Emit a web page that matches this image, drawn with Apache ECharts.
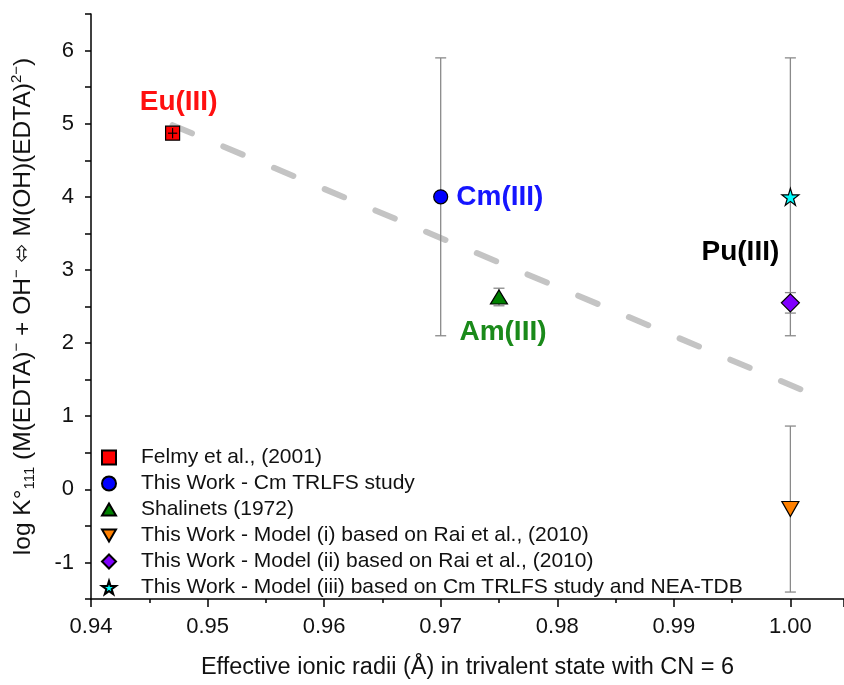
<!DOCTYPE html>
<html><head><meta charset="utf-8">
<script src="https://cdn.jsdelivr.net/npm/echarts@6/dist/echarts.min.js"></script>
<style>html,body{margin:0;padding:0;background:#fff}#c{width:844px;height:685px}</style>
</head><body><div id="c"></div>
<script>
// ---- data ----
const seriesNames = [
  'Felmy et al., (2001)',
  'This Work - Cm TRLFS study',
  'Shalinets (1972)',
  'This Work - Model (i) based on Rai et al., (2010)',
  'This Work - Model (ii) based on Rai et al., (2010)',
  'This Work - Model (iii) based on Cm TRLFS study and NEA-TDB'
];
const euX = [0.947], euY = [4.87], euErrY = [0.07], euErrX = [0.0004];
const cmX = [0.970], cmY = [4.00], cmErr = [1.90];
const amX = [0.975], amY = [2.63], amErr = [0.12];
const m1X = [1.000], m1Y = [-0.27], m1Err = [1.135];
const m2X = [1.000], m2Y = [2.55], m2Err = [0.14];
const m3X = [1.000], m3Y = [4.00], m3Err = [1.90];
const fitX = [0.947, 1.001], fitY = [4.98, 1.36];
const pointLabels = ['Eu(III)', 'Cm(III)', 'Am(III)', 'Pu(III)'];
const xTicks = {min: 0.94, max: 1.0046, step: 0.01};
const yTicks = {min: -1.5, max: 6.5, step: 0.5};

const FONT = '"Liberation Sans", Arial, sans-serif';
const starPath = 'path://M50,0 L61,35 L98,35 L68,57 L79,91 L50,70 L21,91 L32,57 L2,35 L39,35 Z';
const upTri = 'path://M50,0 L100,87 L0,87 Z';
const downTri = 'path://M0,0 L100,0 L50,87 Z';

function zip(xs, ys){ return xs.map((x,i)=>[x, ys[i]]); }
function errData(xs, ys, es){ return xs.map((x,i)=>[x, ys[i]-es[i], ys[i]+es[i]]); }

const allErr = [].concat(errData(cmX,cmY,cmErr), errData(amX,amY,amErr), errData(m1X,m1Y,m1Err),
                         errData(m2X,m2Y,m2Err), errData(m3X,m3Y,m3Err));

function errRender(params, api){
  const x = api.value(0), lo = api.value(1), hi = api.value(2);
  const pTop = api.coord([x, hi]), pBot = api.coord([x, lo]);
  const w = 5.5;
  const st = {stroke: '#8a8a8a', lineWidth: 1.3};
  return {type:'group', children:[
    {type:'line', shape:{x1:pTop[0],y1:pTop[1],x2:pBot[0],y2:pBot[1]}, style:st},
    {type:'line', shape:{x1:pTop[0]-w,y1:pTop[1],x2:pTop[0]+w,y2:pTop[1]}, style:st},
    {type:'line', shape:{x1:pBot[0]-w,y1:pBot[1],x2:pBot[0]+w,y2:pBot[1]}, style:st}
  ]};
}
function crossRender(params, api){
  const x = api.value(0), y = api.value(1);
  const c1 = api.coord([x, y + euErrY[0]]), c2 = api.coord([x, y - euErrY[0]]);
  const c3 = api.coord([x - euErrX[0], y]), c4 = api.coord([x + euErrX[0], y]);
  const st = {stroke:'#000', lineWidth:1.2};
  return {type:'group', children:[
    {type:'line', shape:{x1:c1[0],y1:c1[1],x2:c2[0],y2:c2[1]}, style:st},
    {type:'line', shape:{x1:c3[0],y1:c3[1],x2:c4[0],y2:c4[1]}, style:st}
  ]};
}

const labBase = {show:true, fontFamily:FONT, fontWeight:'bold', fontSize:28};
const border = {borderColor:'#000', borderWidth:1.2, opacity:1};

const chart = echarts.init(document.getElementById('c'), null, {renderer:'canvas'});
chart.setOption({
  animation:false,
  backgroundColor:'#fff',
  textStyle:{fontFamily:FONT},
  grid:{left:91, right:0, top:14, bottom:82},
  legend:{
    orient:'vertical', left:101, top:447, itemWidth:14, itemHeight:14, itemGap:5, padding:0,
    textStyle:{fontFamily:FONT, fontSize:21, color:'#111', padding:[0,0,0,20]},
    data: seriesNames
  },
  xAxis:{
    type:'value', min:xTicks.min, max:xTicks.max, interval:xTicks.step,
    axisLine:{show:true, onZero:false, lineStyle:{color:'#000', width:1.5}},
    axisTick:{show:true, inside:false, length:8, lineStyle:{color:'#000', width:1.5}},
    minorTick:{show:true, splitNumber:2, length:4, lineStyle:{color:'#000', width:1.5}},
    splitLine:{show:false},
    axisLabel:{fontSize:22, color:'#111', margin:17, fontFamily:FONT, showMaxLabel:false,
      formatter: v => Math.abs(v*100 - Math.round(v*100)) < 1e-6 ? v.toFixed(2) : ''},
    name:'Effective ionic radii (Å) in trivalent state with CN = 6',
    nameLocation:'middle', nameGap:57,
    nameTextStyle:{fontSize:23.5, color:'#111', fontFamily:FONT}
  },
  yAxis:{
    type:'value', min:yTicks.min, max:yTicks.max, interval:yTicks.step,
    axisLine:{show:true, onZero:false, lineStyle:{color:'#000', width:1.5}},
    axisTick:{show:true, length:6, lineStyle:{color:'#000', width:1.5}},
    splitLine:{show:false},
    axisLabel:{fontSize:22, color:'#111', margin:17, fontFamily:FONT,
      formatter: v => Math.abs(v - Math.round(v)) < 1e-6 ? String(Math.round(v)) : ''},
    name:'{n|log K°}{sub|111}{n| (M(EDTA)}{sup|−}{n| + OH}{sup|−}{n| }{ar|⬄}{n| M(OH)(EDTA)}{sup|2−}{n|)}',
    nameLocation:'middle', nameGap:54, nameRotate:90,
    nameTextStyle:{color:'#111', fontFamily:FONT, fontSize:24,
      rich:{
        n:{fontSize:24.5, lineHeight:28, verticalAlign:'middle', fontFamily:FONT, color:'#111'},
        ar:{fontSize:23, lineHeight:28, verticalAlign:'middle', fontFamily:'"DejaVu Sans"', color:'#111'},
        sub:{fontSize:15, lineHeight:14, verticalAlign:'bottom', fontFamily:FONT, color:'#111'},
        sup:{fontSize:15, lineHeight:14, verticalAlign:'top', fontFamily:FONT, color:'#111'}
      }}
  },
  series:[
    {type:'line', data: zip(fitX, fitY), symbol:'none', silent:true, z:1,
      lineStyle:{color:'#c4c4c4', width:6, type:[21,34], cap:'round'}},
    {type:'custom', renderItem: errRender, data: allErr, z:2, silent:true,
      encode:{x:0, y:[1,2]}},
    {name:seriesNames[0], type:'scatter', data: zip(euX, euY), symbol:'rect', symbolSize:14, z:5,
      itemStyle:Object.assign({color:'#ff0000'}, border),
      label:Object.assign({}, labBase, {color:'#ff1010', position:'top', distance:9, offset:[6,0],
        formatter: pointLabels[0]})},
    {type:'custom', renderItem: crossRender, data: zip(euX, euY), z:6, silent:true},
    {name:seriesNames[1], type:'scatter', data: zip(cmX, cmY), symbol:'circle', symbolSize:14, z:5,
      itemStyle:Object.assign({color:'#0000ff'}, border),
      label:Object.assign({}, labBase, {color:'#1515ff', position:'right', distance:8,
        formatter: pointLabels[1]})},
    {name:seriesNames[2], type:'scatter', data: zip(amX, amY), symbol:upTri, symbolSize:[17,14], z:5,
      itemStyle:Object.assign({color:'#008000'}, border),
      label:Object.assign({}, labBase, {color:'#1a8a1a', position:'bottom', distance:14, offset:[4,0],
        formatter: pointLabels[2]})},
    {name:seriesNames[3], type:'scatter', data: zip(m1X, m1Y), symbol:downTri, symbolSize:[17,15], z:5,
      itemStyle:Object.assign({color:'#ff8000'}, border)},
    {name:seriesNames[4], type:'scatter', data: zip(m2X, m2Y), symbol:'diamond', symbolSize:18, z:5,
      itemStyle:Object.assign({color:'#8000ff'}, border)},
    {name:seriesNames[5], type:'scatter', data: zip(m3X, m3Y), symbol:starPath, symbolSize:17, z:5,
      itemStyle:Object.assign({color:'#00ffff'}, border),
      label:Object.assign({}, labBase, {color:'#000', position:'left', distance:2, offset:[0,55],
        formatter: pointLabels[3]})}
  ]
});
</script></body></html>
